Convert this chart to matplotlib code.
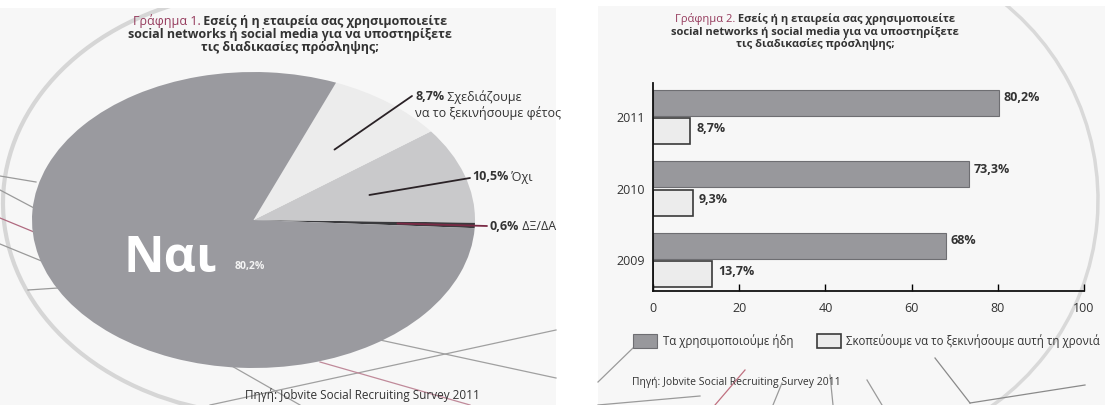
import numpy as np
import matplotlib
matplotlib.use('Agg')
import matplotlib.pyplot as plt
from matplotlib.patches import Rectangle, Arc

plt.rcParams['font.family'] = ['Open Sans', 'DejaVu Sans']

W, H = 1105, 405

# Γράφημα 1: pie
pie_labels = ['ΔΞ/ΔΑ', 'Όχι', 'Σχεδιάζουμε\nνα το ξεκινήσουμε φέτος', 'Ναι']
pie_values = [0.6, 10.5, 8.7, 80.2]
pie_text = ['0,6%', '10,5%', '8,7%', '80,2%']
pie_colors = ['#3a3a3d', '#c9c9cb', '#ececec', '#9a9a9f']

# Γράφημα 2: bars
years = ['2009', '2010', '2011']
used_already = [68, 73.3, 80.2]
plan_this_year = [13.7, 9.3, 8.7]
used_text = ['68%', '73,3%', '80,2%']
plan_text = ['13,7%', '9,3%', '8,7%']
legend_labels = ['Τα χρησιμοποιούμε ήδη', 'Σκοπεύουμε να το ξεκινήσουμε αυτή τη χρονιά']
xticks = [0, 20, 40, 60, 80, 100]

title_head = ['Γράφημα 1.', 'Γράφημα 2.']
title_lines = [' Εσείς ή η εταιρεία σας χρησιμοποιείτε',
               'social networks ή social media για να υποστηρίξετε',
               'τις διαδικασίες πρόσληψης;']
source = 'Πηγή: Jobvite Social Recruiting Survey 2011'

TXT = '#333333'
MAROON = '#953a5c'

fig = plt.figure(figsize=(W / 100, H / 100), dpi=100)
fig.patch.set_facecolor('white')


def fx(px):
    return px / W


def fy(py):
    return 1 - py / H


# background layer in pixel coords
bg = fig.add_axes([0, 0, 1, 1], zorder=0)
bg.set_xlim(0, W)
bg.set_ylim(H, 0)
bg.axis('off')
left_panel = Rectangle((0, 8), 556, H, facecolor='#f7f7f7', edgecolor='none')
right_panel = Rectangle((598, 6), W - 598, H, facecolor='#f7f7f7', edgecolor='none')
bg.add_patch(left_panel)
bg.add_patch(right_panel)

ring = Arc((268, 203), 530, 424, theta1=100, theta2=245, edgecolor='#d6d6d6', lw=3)
bg.add_patch(ring)
ring.set_clip_path(left_panel)
arc = Arc((845, 200), 506, 506, theta1=-60, theta2=70, edgecolor='#d9d9d9', lw=2.5)
bg.add_patch(arc)
arc.set_clip_path(right_panel)

# thin decorative strokes
deco = [((0, 176), (36, 182), '#9a9a9a'), ((0, 190), (34, 208), '#9a9a9a'),
        ((0, 218), (34, 232), '#b06a80'), ((0, 244), (44, 262), '#9a9a9a'),
        ((28, 290), (58, 288), '#9a9a9a'),
        ((195, 345), (300, 405), '#a0a0a0'), ((380, 340), (556, 378), '#a0a0a0'),
        ((210, 405), (556, 330), '#a0a0a0'), ((320, 362), (470, 405), '#c08a9a'),
        ((598, 382), (634, 347), '#9a9a9a'), ((935, 358), (970, 403), '#8a8a8a'),
        ((970, 403), (1085, 385), '#8a8a8a'), ((745, 370), (715, 405), '#c07080'),
        ((782, 383), (773, 405), '#9a9a9a'), ((830, 375), (833, 405), '#9a9a9a'),
        ((867, 380), (882, 405), '#9a9a9a'), ((598, 405), (700, 396), '#9a9a9a')]
for a, b, c in deco:
    bg.plot([a[0], b[0]], [a[1], b[1]], color=c, lw=0.9)

# ---- pie ----
ax_pie = fig.add_axes([fx(32), fy(368), fx(475) - fx(32), (368 - 72) / H], zorder=1)
wedges, _ = ax_pie.pie(pie_values, colors=pie_colors, startangle=-3.16,
                       counterclock=True, wedgeprops=dict(linewidth=0))
ax_pie.set_aspect('auto')
ax_pie.set_xlim(-1, 1)
ax_pie.set_ylim(-1, 1)
ax_pie.patch.set_visible(False)

leader_end = [(487, 226), (470, 178), (412, 96)]
leader_r = [0.65, 0.55, 0.6]
leader_col = ['#7a2a45', '#2a2226', '#2a2226']
for w, end, r, c in zip(wedges[:3], leader_end, leader_r, leader_col):
    ang = np.deg2rad((w.theta1 + w.theta2) / 2)
    ax_pie.annotate('', xy=(r * np.cos(ang), r * np.sin(ang)), xytext=end,
                    textcoords=bg.transData,
                    arrowprops=dict(arrowstyle='-', color=c, lw=1.3,
                                    shrinkA=0, shrinkB=0))

# ---- bars ----
ax_bar = fig.add_axes([fx(653), fy(291), fx(1084) - fx(653), (291 - 83) / H], zorder=1)
ypos = np.arange(len(years))
bh = 0.36
b_used = ax_bar.barh(ypos + 0.2, used_already, height=bh, color='#98989c',
                     edgecolor='#6e6e72', linewidth=0.8)
b_plan = ax_bar.barh(ypos - 0.2, plan_this_year, height=bh, color='#ececec',
                     edgecolor='#3a3a3a', linewidth=1.2)
for y, v, t in zip(ypos, used_already, used_text):
    ax_bar.text(v + 1.1, y + 0.27, t, va='center', fontsize=9, weight='bold', color=TXT)
for y, v, t in zip(ypos, plan_this_year, plan_text):
    ax_bar.text(v + 1.4, y - 0.16, t, va='center', fontsize=9, weight='bold', color=TXT)
ax_bar.set_xlim(0, 100)
ax_bar.set_ylim(-0.434, 2.476)
ax_bar.set_xticks(xticks)
ax_bar.set_yticks(ypos)
ax_bar.set_yticklabels(years)
ax_bar.tick_params(axis='x', direction='in', length=5, width=1, labelsize=9,
                   labelcolor=TXT, pad=8)
ax_bar.tick_params(axis='y', length=0, labelsize=9, labelcolor=TXT, pad=6)
for s in ['top', 'right']:
    ax_bar.spines[s].set_visible(False)
for s in ['left', 'bottom']:
    ax_bar.spines[s].set_linewidth(1.3)
    ax_bar.spines[s].set_color('#111111')
ax_bar.patch.set_visible(False)

fig.legend([b_used, b_plan], legend_labels, loc='upper left',
           bbox_to_anchor=(fx(633), fy(334)), bbox_transform=fig.transFigure,
           ncol=2, frameon=False, handlelength=2.1, handleheight=1.55,
           handletextpad=0.5, columnspacing=2.0, borderpad=0, borderaxespad=0,
           fontsize=8.3, labelcolor=TXT)

# ---- text layer ----
top = fig.add_axes([0, 0, 1, 1], zorder=3)
top.set_xlim(0, W)
top.set_ylim(H, 0)
top.axis('off')
renderer = fig.canvas.get_renderer()


def runs(x, y, parts, fs, center=False):
    # draw pieces of one line side by side
    arts = [top.text(x, y, s, fontsize=fs, va='center', **kw) for s, kw in parts]
    widths = [a.get_window_extent(renderer).width for a in arts]
    x0 = x - sum(widths) / 2 if center else x
    for a, wd in zip(arts, widths):
        a.set_x(x0)
        x0 += wd
    return arts


for head, cx, y0, fs, dy in [(title_head[0], 290, 21, 9, 13.5),
                             (title_head[1], 815, 19, 8, 12.5)]:
    runs(cx, y0, [(head, dict(color=MAROON)),
                  (title_lines[0], dict(color=TXT, weight='bold'))], fs, center=True)
    for i, line in enumerate(title_lines[1:], 1):
        top.text(cx, y0 + i * dy, line, fontsize=fs, weight='bold', color=TXT,
                 ha='center', va='center')

# pie labels
lab_pos = [(490, 226), (472, 177), (415, 97)]
for (x, y), t, lab in zip(lab_pos, pie_text[:3], pie_labels[:3]):
    first, *rest = lab.split('\n')
    runs(x, y, [(t, dict(color=TXT, weight='bold')), (' ' + first, dict(color=TXT))], 9)
    for j, extra in enumerate(rest, 1):
        top.text(x, y + 16 * j, extra, fontsize=9, color=TXT, va='center')

top.text(124, 259, pie_labels[3], fontsize=36, weight='bold', color='white', va='center')
top.text(235, 267, pie_text[3], fontsize=7.5, weight='bold', color='#f4f4f4', va='center')

top.text(245, 395, source, fontsize=8.5, color=TXT, va='center')
top.text(632, 382, source, fontsize=7.5, color=TXT, va='center')

fig.savefig('out.png', dpi=100, facecolor=fig.get_facecolor())
